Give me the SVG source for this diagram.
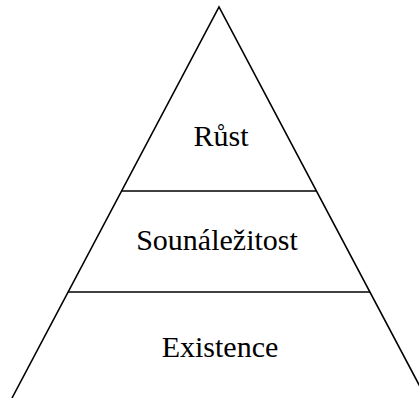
<svg xmlns="http://www.w3.org/2000/svg" width="419" height="398" viewBox="0 0 419 398">
<style>
.edge{stroke:#000;stroke-width:1.6;fill:none}
.lbl{font-family:"Liberation Serif","Times New Roman",serif;font-size:30px;fill:#000;text-anchor:middle}
</style>
<rect width="419" height="398" fill="#fff"/>
<g id="connectors">
<path class="edge" d="M12,398 L219,7 L426,398"/>
<line class="edge" x1="122" y1="191" x2="316" y2="191"/>
<line class="edge" x1="68" y1="292" x2="370" y2="292"/>
</g>
<g id="rust"><text class="lbl" x="221" y="146">Růst</text></g>
<g id="sounalezitost"><text class="lbl" x="217" y="250">Sounáležitost</text></g>
<g id="existence"><text class="lbl" x="220" y="357">Existence</text></g>
</svg>
